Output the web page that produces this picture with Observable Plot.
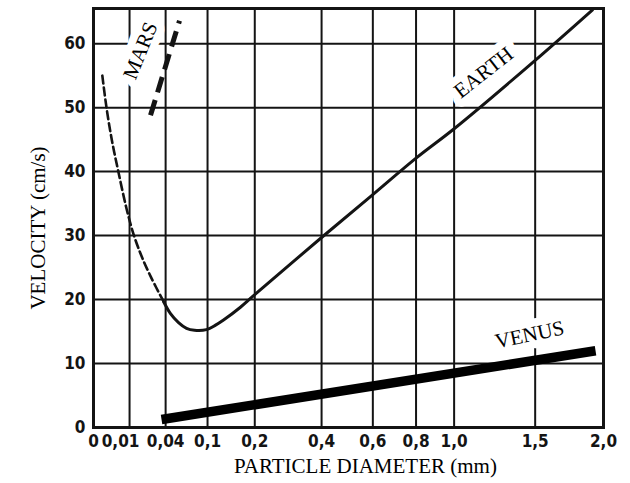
<!DOCTYPE html>
<html>
<head>
<meta charset="utf-8">
<script src="https://cdn.jsdelivr.net/npm/d3@7"></script>
<script src="https://cdn.jsdelivr.net/npm/@observablehq/plot@0.6"></script>
<style>
  html, body { margin: 0; padding: 0; background: #fff; }
</style>
</head>
<body>
<div id="chart"></div>
<script>
// ---- data ----
const xTicks = [0, 0.01, 0.04, 0.1, 0.2, 0.4, 0.6, 0.8, 1.0, 1.5, 2.0];
const xTickLabels = ["0", "0,01", "0,04", "0,1", "0,2", "0,4", "0,6", "0,8", "1,0", "1,5", "2,0"];
const yTicks = [0, 10, 20, 30, 40, 50, 60];

// Earth: dashed (very fine particles) part
const earthDashedD = [0.0006, 0.0013, 0.0026, 0.0048, 0.0084, 0.0126, 0.0181, 0.0254, 0.0377];
const earthDashedV = [55.0, 50.0, 44.9, 39.9, 34.2, 30.0, 26.6, 23.5, 19.7];
// Earth: solid part
const earthSolidD = [0.0377, 0.0456, 0.0556, 0.0665, 0.0785, 0.098, 0.1145, 0.13, 0.166, 0.197, 0.4, 0.6, 0.8, 1.0, 1.5, 1.915];
const earthSolidV = [19.7, 17.8, 16.4, 15.5, 15.2, 15.3, 16.0, 16.8, 18.8, 20.6, 29.7, 36.4, 42.1, 46.7, 57.4, 65.3];
// Mars
const marsD = [0.025, 0.0569];
const marsV = [48.8, 63.6];
// Venus
const venusD = [0.0356, 1.938];
const venusV = [1.25, 12.0];

// curve labels
const labelText = ["MARS", "EARTH", "VENUS"];
const labelD = [0.017, 1.17, 1.462];
const labelV = [58.9, 55.5, 14.5];
const labelRotate = [-68, -38, -12];

const zip = (xs, ys) => xs.map((x, i) => ({x, y: ys[i]}));
const earthDashed = zip(earthDashedD, earthDashedV);
const earthSolid = zip(earthSolidD, earthSolidV);
const mars = zip(marsD, marsV);
const venus = zip(venusD, venusV);
const labels = labelText.map((t, i) => ({t, x: labelD[i], y: labelV[i], r: labelRotate[i]}));

const ink = "#141414";
const tickFont = "'DejaVu Sans Condensed', 'Liberation Sans Narrow', 'DejaVu Sans', sans-serif";
const serif = "'Liberation Serif', 'DejaVu Serif', serif";
const fmt = d => xTickLabels[xTicks.indexOf(d)];

const chart = Plot.plot({
  width: 630,
  height: 483,
  marginLeft: 93,
  marginRight: 27,
  marginTop: 8,
  marginBottom: 56,
  style: {background: "#fff", color: ink},
  x: {type: "sqrt", domain: [0, 2]},
  y: {type: "linear", domain: [0, 65.5]},
  marks: [
    Plot.gridX(xTicks, {stroke: ink, strokeOpacity: 1, strokeWidth: 2}),
    Plot.gridY(yTicks, {stroke: ink, strokeOpacity: 1, strokeWidth: 2}),
    Plot.frame({stroke: ink, strokeWidth: 3}),
    Plot.axisX(xTicks.filter(d => d !== 0.01), {
      tickSize: 0, tickPadding: 7, tickFormat: fmt, label: null,
      fontSize: 17, fontWeight: "bold", fontFamily: tickFont, fill: ink
    }),
    Plot.axisX([0.01], {
      tickSize: 0, tickPadding: 7, tickFormat: fmt, label: null, dx: -9,
      fontSize: 17, fontWeight: "bold", fontFamily: tickFont, fill: ink
    }),
    Plot.axisY(yTicks, {
      tickSize: 0, tickPadding: 8, label: null,
      fontSize: 17, fontWeight: "bold", fontFamily: tickFont, fill: ink
    }),
    // curves
    Plot.line(earthDashed, {x: "x", y: "y", stroke: ink, strokeWidth: 2.6, strokeDasharray: "8,4", curve: "catmull-rom"}),
    Plot.line(earthSolid, {x: "x", y: "y", stroke: ink, strokeWidth: 3, curve: "catmull-rom"}),
    Plot.line(mars, {x: "x", y: "y", stroke: ink, strokeWidth: 5, strokeDasharray: "16,8", strokeLinecap: "butt"}),
    Plot.line(venus, {x: "x", y: "y", stroke: "#000", strokeWidth: 9.5, strokeLinecap: "butt"}),
    // curve labels with white boxes
    Plot.text(labels, {
      x: "x", y: "y", text: "t", rotate: "r",
      fontFamily: serif, fontSize: 21, fill: "#000",
      stroke: "#fff", strokeWidth: 16, strokeLinejoin: "round"
    }),
    // axis titles
    Plot.text(["PARTICLE DIAMETER (mm)"], {
      frameAnchor: "bottom", textAnchor: "middle", lineAnchor: "middle", dy: 39, dx: 17,
      fontFamily: serif, fontSize: 21, fill: "#000"
    }),
    Plot.text(["VELOCITY (cm/s)"], {
      frameAnchor: "left", textAnchor: "middle", lineAnchor: "middle", dx: -55, dy: 10, rotate: -90,
      fontFamily: serif, fontSize: 21, fill: "#000"
    })
  ]
});
document.getElementById("chart").appendChild(chart);
</script>
</body>
</html>
